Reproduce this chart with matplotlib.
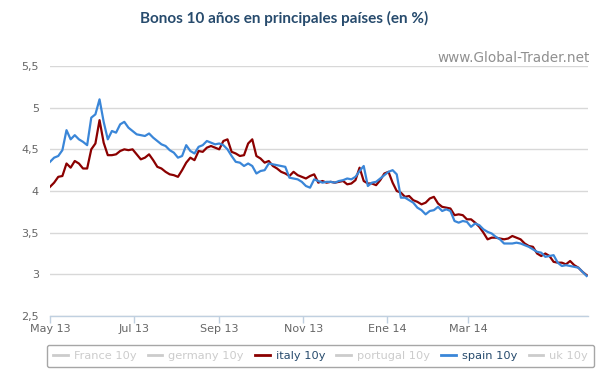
import matplotlib
matplotlib.use("Agg")
import matplotlib.pyplot as plt
from matplotlib.lines import Line2D
import pandas as pd

# ---------------- data ----------------
start_date = "2013-05-01"
step = "3D"
n_points = 131

italy = [4.05, 4.10, 4.17, 4.18, 4.33, 4.28, 4.36, 4.33, 4.27, 4.27,
         4.50, 4.57, 4.85, 4.58, 4.43, 4.43, 4.44, 4.48, 4.50, 4.49,
         4.50, 4.44, 4.38, 4.40, 4.44, 4.37, 4.29, 4.27, 4.23, 4.20,
         4.19, 4.17, 4.25, 4.34, 4.40, 4.37, 4.48, 4.47, 4.52, 4.54,
         4.52, 4.50, 4.60, 4.62, 4.47, 4.45, 4.42, 4.43, 4.57, 4.62,
         4.42, 4.39, 4.34, 4.36, 4.30, 4.27, 4.23, 4.21, 4.18, 4.23,
         4.19, 4.17, 4.15, 4.18, 4.20, 4.10, 4.12, 4.10, 4.11, 4.10,
         4.11, 4.12, 4.08, 4.09, 4.13, 4.28, 4.12, 4.09, 4.09, 4.07,
         4.13, 4.21, 4.23, 4.10, 4.00, 3.98, 3.93, 3.94, 3.89, 3.87,
         3.84, 3.86, 3.91, 3.93, 3.85, 3.81, 3.80, 3.79, 3.71, 3.72,
         3.71, 3.66, 3.66, 3.62, 3.57, 3.50, 3.42, 3.44, 3.44, 3.43,
         3.42, 3.43, 3.46, 3.44, 3.42, 3.37, 3.34, 3.33, 3.25, 3.22,
         3.25, 3.22, 3.15, 3.14, 3.14, 3.12, 3.16, 3.11, 3.08, 3.03,
         2.99]

spain = [4.35, 4.40, 4.42, 4.49, 4.73, 4.62, 4.67, 4.62, 4.59, 4.55,
         4.88, 4.92, 5.10, 4.83, 4.62, 4.72, 4.70, 4.80, 4.83, 4.76,
         4.72, 4.68, 4.67, 4.66, 4.69, 4.64, 4.60, 4.56, 4.54, 4.49,
         4.46, 4.40, 4.42, 4.55, 4.48, 4.45, 4.53, 4.55, 4.60, 4.58,
         4.56, 4.57, 4.55, 4.50, 4.42, 4.35, 4.34, 4.30, 4.33, 4.30,
         4.21, 4.24, 4.25, 4.33, 4.32, 4.31, 4.30, 4.29, 4.16, 4.15,
         4.14, 4.11, 4.06, 4.04, 4.14, 4.12, 4.10, 4.11, 4.11, 4.10,
         4.12, 4.13, 4.15, 4.14, 4.17, 4.24, 4.30, 4.06, 4.10, 4.11,
         4.15, 4.19, 4.23, 4.25, 4.20, 3.92, 3.92, 3.89, 3.86, 3.80,
         3.77, 3.72, 3.76, 3.77, 3.81, 3.76, 3.78, 3.76, 3.64, 3.62,
         3.64, 3.63, 3.57, 3.61, 3.59, 3.54, 3.51, 3.49, 3.45, 3.42,
         3.37, 3.37, 3.37, 3.38, 3.37, 3.35, 3.33, 3.30, 3.27, 3.26,
         3.21, 3.22, 3.23, 3.14, 3.10, 3.11, 3.10, 3.09, 3.08, 3.03,
         2.98]

tick_dates = ["2013-05-01", "2013-07-01", "2013-09-01", "2013-11-01",
              "2014-01-01", "2014-03-01"]
tick_labels = ["May 13", "Jul 13", "Sep 13", "Nov 13", "Ene 14", "Mar 14"]
y_ticks = [2.5, 3, 3.5, 4, 4.5, 5, 5.5]
y_labels = ["2,5", "3", "3,5", "4", "4,5", "5", "5,5"]

legend_names = ["France 10y", "germany 10y", "italy 10y",
                "portugal 10y", "spain 10y", "uk 10y"]

title = "Bonos 10 años en principales países (en %)"
credit = "www.Global-Trader.net"

# ---------------- figure ----------------
plt.rcParams["font.family"] = ["DejaVu Sans"]
W, H = 610, 386
fig = plt.figure(figsize=(W / 100, H / 100), dpi=100)
fig.patch.set_facecolor("white")

left, right, top, bottom = 50, 588, 66, 316
ax = fig.add_axes([left / W, 1 - bottom / H, (right - left) / W, (bottom - top) / H])

dates = pd.date_range(start_date, periods=n_points, freq=step)

col_italy = "#8b0000"
col_spain = "#3a86d8"
ax.plot(dates, italy, color=col_italy, lw=1.6, zorder=3, solid_joinstyle="round")
ax.plot(dates, spain, color=col_spain, lw=1.6, zorder=4, solid_joinstyle="round")

ax.set_ylim(2.5, 5.5)
ax.set_xlim(pd.Timestamp("2013-05-01"), dates[-1] + pd.Timedelta(days=1))

ax.set_yticks(y_ticks)
ax.set_yticklabels(y_labels)
ax.set_xticks(pd.to_datetime(tick_dates))
ax.set_xticklabels(tick_labels)

ax.grid(axis="y", color="#d8d8d8", lw=1)
ax.set_axisbelow(True)
for s in ["left", "right", "top"]:
    ax.spines[s].set_visible(False)
ax.spines["bottom"].set_color("#c0d0e0")
ax.spines["bottom"].set_linewidth(1)
ax.spines["bottom"].set_zorder(1)

ax.tick_params(axis="y", length=0, pad=8, labelsize=8, labelcolor="#666666")
ax.tick_params(axis="x", length=5, width=1, color="#c0d0e0", pad=1,
               labelsize=8, labelcolor="#666666", direction="out")

fig.text(284 / W, 1 - 18 / H, title, ha="center", va="center",
         fontsize=11, fontweight="bold", color="#274b6d", family="Lato")
fig.text(590 / W, 1 - 58 / H, credit, ha="right", va="center",
         fontsize=9.8, color="#909090")

# legend
handles = []
for name in legend_names:
    if name.startswith("italy"):
        handles.append(Line2D([], [], color=col_italy, lw=2))
    elif name.startswith("spain"):
        handles.append(Line2D([], [], color=col_spain, lw=2))
    else:
        handles.append(Line2D([], [], color="#cccccc", lw=2))
leg = fig.legend(handles, legend_names, ncol=6, loc="center",
                 bbox_to_anchor=(320.5 / W, 1 - 356 / H), fontsize=8.2,
                 handlelength=1.3, handletextpad=0.5, columnspacing=1.0,
                 frameon=True, fancybox=True, edgecolor="#909090",
                 borderpad=0.55)
leg.get_frame().set_linewidth(1)
for txt, name in zip(leg.get_texts(), legend_names):
    if name.startswith("italy") or name.startswith("spain"):
        txt.set_color("#274b6d")
    else:
        txt.set_color("#cccccc")

fig.savefig("out.png", dpi=100, facecolor="white")
